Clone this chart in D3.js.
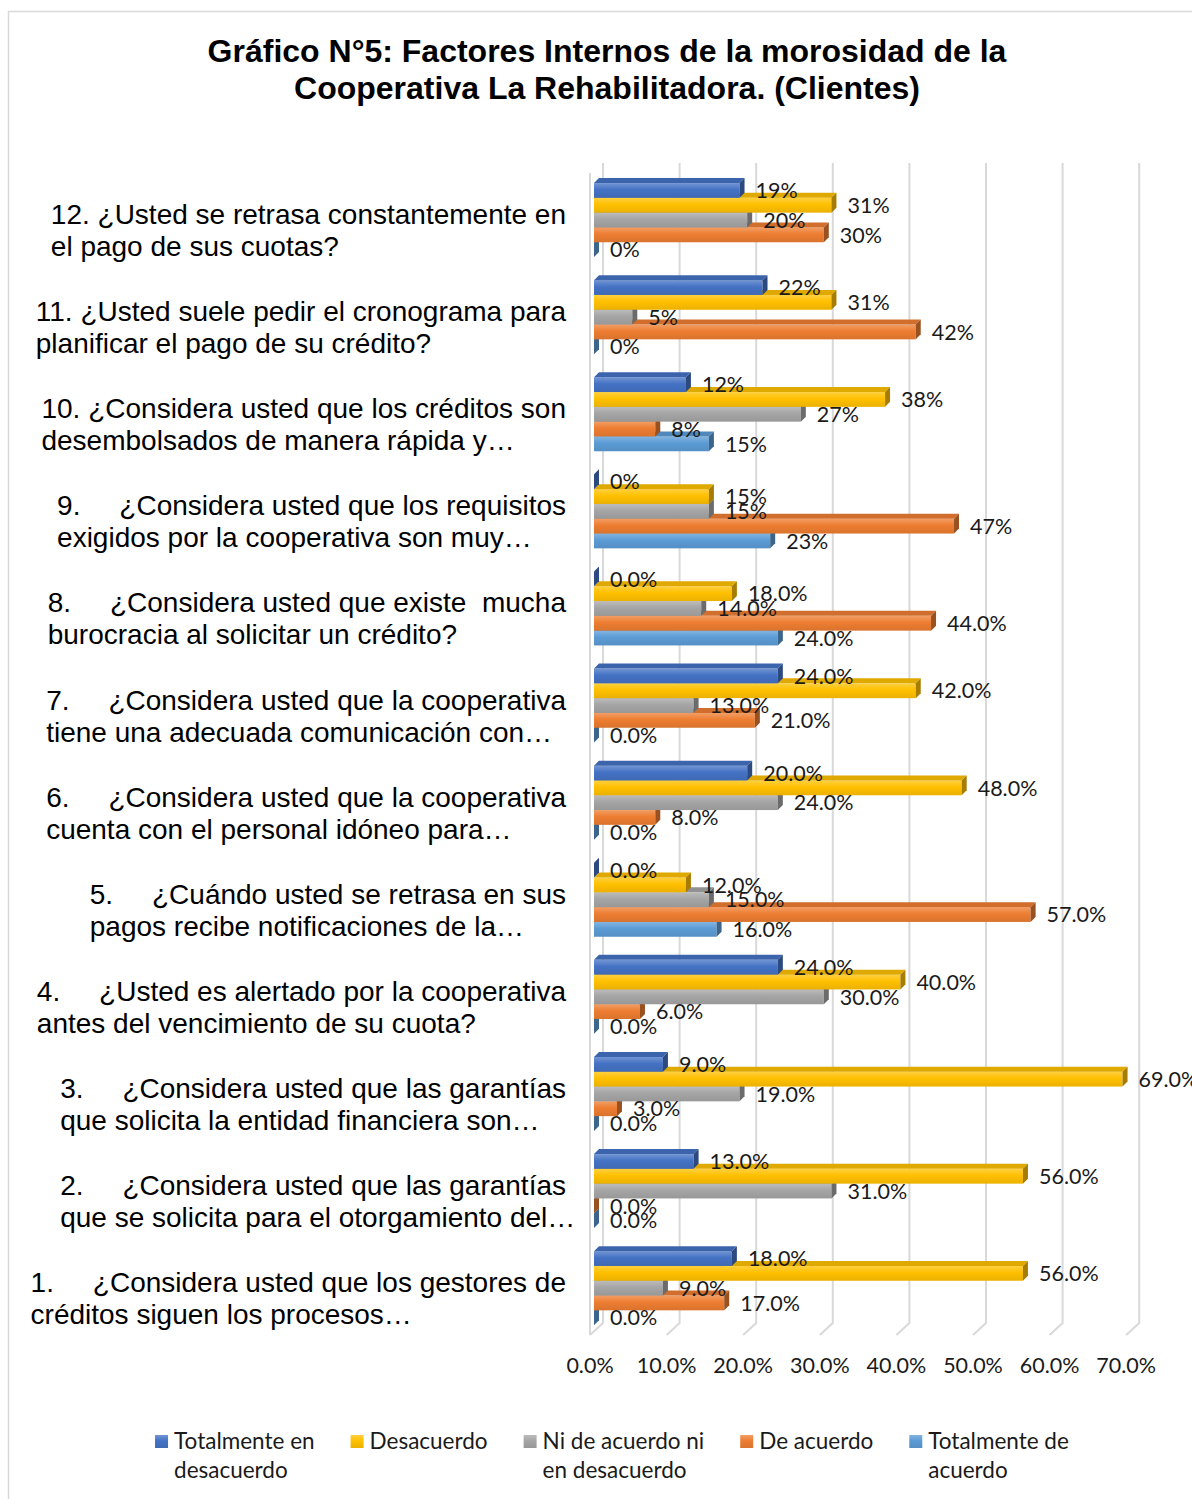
<!DOCTYPE html>
<html>
<head>
<meta charset="utf-8">
<script src="https://cdn.jsdelivr.net/npm/d3@7"></script>
<style>
    body { margin: 0; background: #fff; }
    svg { display: block; }
    .qlabel { font-family: "Liberation Sans", Arial, sans-serif; font-size: 28px; fill: #000; white-space: pre; }
    .vlabel, .tick-label { font-family: Lato, "Open Sans", sans-serif; font-size: 21.5px; fill: #1a1a1a; }
    .legend-label { font-family: Lato, "Open Sans", sans-serif; font-size: 22.5px; fill: #1a1a1a; }
    .title { font-family: "Liberation Sans", Arial, sans-serif; font-size: 32px; font-weight: bold; fill: #000; }
</style>
</head>
<body>
<svg id="chart" width="1192" height="1499"></svg>
<script>
// questions, top to bottom
var questions = ['12', '11', '10', '9', '8', '7', '6', '5', '4', '3', '2', '1'];
var questionLines = [
    ['12. ¿Usted se retrasa constantemente en', 'el pago de sus cuotas?'],
    ['11. ¿Usted suele pedir el cronograma para', 'planificar el pago de su crédito?'],
    ['10. ¿Considera usted que los créditos son', 'desembolsados de manera rápida y…'],
    ['9.     ¿Considera usted que los requisitos', 'exigidos por la cooperativa son muy…'],
    ['8.     ¿Considera usted que existe  mucha', 'burocracia al solicitar un crédito?'],
    ['7.     ¿Considera usted que la cooperativa', 'tiene una adecuada comunicación con…'],
    ['6.     ¿Considera usted que la cooperativa', 'cuenta con el personal idóneo para…'],
    ['5.     ¿Cuándo usted se retrasa en sus', 'pagos recibe notificaciones de la…'],
    ['4.     ¿Usted es alertado por la cooperativa', 'antes del vencimiento de su cuota?'],
    ['3.     ¿Considera usted que las garantías', 'que solicita la entidad financiera son…'],
    ['2.     ¿Considera usted que las garantías', 'que se solicita para el otorgamiento del…'],
    ['1.     ¿Considera usted que los gestores de', 'créditos siguen los procesos…']
];

var seriesNames = ['Totalmente en desacuerdo', 'Desacuerdo', 'Ni de acuerdo ni en desacuerdo', 'De acuerdo', 'Totalmente de acuerdo'];
var legendLines = [['Totalmente en', 'desacuerdo'], ['Desacuerdo'], ['Ni de acuerdo ni', 'en desacuerdo'], ['De acuerdo'], ['Totalmente de', 'acuerdo']];
var seriesColors = ['#4472c4', '#ffc000', '#a5a5a5', '#ed7d31', '#5b9bd5'];

// percentages per question (same order as questions)
var totDesacuerdo = [19, 22, 12, 0, 0, 24, 20, 0, 24, 9, 13, 18];
var desacuerdo    = [31, 31, 38, 15, 18, 42, 48, 12, 40, 69, 56, 56];
var niNi          = [20, 5, 27, 15, 14, 13, 24, 15, 30, 19, 31, 9];
var deAcuerdo     = [30, 42, 8, 47, 44, 21, 8, 57, 6, 3, 0, 17];
var totAcuerdo    = [0, 0, 15, 23, 24, 0, 0, 16, 0, 0, 0, 0];
var labelDecimals = [0, 0, 0, 0, 1, 1, 1, 1, 1, 1, 1, 1];
var xTicks = [0, 10, 20, 30, 40, 50, 60, 70];

var seriesValues = [totDesacuerdo, desacuerdo, niNi, deAcuerdo, totAcuerdo];

var svg = d3.select('#chart'),
    depth = 5,
    floorTop = 1323,
    floorBottom = 1335,
    wallTop = 163;

var x = d3.scaleLinear().domain([0, 70]).range([594, 594 + 70 * 7.66]);
var floorX = d3.scaleLinear().domain([0, 70]).range([590, 590 + 70 * 7.66]);
var y = d3.scaleBand()
    .domain(questions)
    .range([171.5, 171.5 + 12 * 97.1])
    .paddingInner(0.238)
    .paddingOuter(0.119);
var ys = d3.scaleBand().domain(d3.range(5)).range([0, y.bandwidth()]);

// border
svg.append('rect')
    .attr('x', 8.5).attr('y', 11.5)
    .attr('width', 1220).attr('height', 1520)
    .attr('fill', '#fff')
    .attr('stroke', '#d9d9d9')
    .attr('stroke-width', 1.5);

// title
svg.append('text').attr('class', 'title')
    .attr('x', 607).attr('y', 62)
    .attr('text-anchor', 'middle')
    .text('Gráfico N°5: Factores Internos de la morosidad de la');
svg.append('text').attr('class', 'title')
    .attr('x', 607).attr('y', 99)
    .attr('text-anchor', 'middle')
    .text('Cooperativa La Rehabilitadora. (Clientes)');

// gradients
var defs = svg.append('defs');
seriesColors.forEach(function(c, i) {
    var g = defs.append('linearGradient')
        .attr('id', 'grad' + i)
        .attr('x1', 0).attr('y1', 0).attr('x2', 0).attr('y2', 1);
    g.append('stop').attr('offset', '0%').attr('stop-color', d3.interpolateRgb(c, '#fff')(0.25));
    g.append('stop').attr('offset', '45%').attr('stop-color', c);
    g.append('stop').attr('offset', '100%').attr('stop-color', d3.interpolateRgb(c, '#000')(0.08));
});

// walls and floor grid
var grid = svg.append('g').attr('class', 'grid')
    .attr('fill', 'none')
    .attr('stroke', '#d9d9d9')
    .attr('stroke-width', 2);

grid.append('line')
    .attr('x1', floorX(0)).attr('x2', floorX(0))
    .attr('y1', wallTop + 10).attr('y2', floorBottom);

grid.selectAll('path.gridline')
    .data(xTicks)
    .enter()
    .append('path')
    .attr('class', 'gridline')
    .attr('d', function(d) {
        var xb = floorX(d) + 13;
        return 'M' + xb + ',' + wallTop + 'L' + xb + ',' + floorTop + 'L' + floorX(d) + ',' + floorBottom;
    });

// bars
var bh = ys.bandwidth();

function barData() {
    var out = [];
    questions.forEach(function(q, qi) {
        for (var s = seriesValues.length - 1; s >= 0; s--) {
            out.push({ q: q, qi: qi, s: s, v: seriesValues[s][qi] });
        }
    });
    return out;
}

var bars = svg.append('g').attr('class', 'bars')
    .selectAll('.bar')
    .data(barData())
    .enter()
    .append('g')
    .attr('class', 'bar');

bars.append('rect')
    .attr('x', x(0))
    .attr('y', function(d) { return y(d.q) + ys(d.s); })
    .attr('width', function(d) { return x(d.v) - x(0); })
    .attr('height', bh)
    .attr('fill', function(d) { return 'url(#grad' + d.s + ')'; });

bars.append('path')
    .attr('d', function(d) {
        var y0 = y(d.q) + ys(d.s), x0 = x(0), x1 = x(d.v);
        return 'M' + x0 + ',' + y0 + 'L' + (x0 + depth) + ',' + (y0 - depth) +
            'L' + (x1 + depth) + ',' + (y0 - depth) + 'L' + x1 + ',' + y0 + 'Z';
    })
    .attr('fill', function(d) { return d3.interpolateRgb(seriesColors[d.s], '#000')(0.12); });

bars.append('path')
    .attr('d', function(d) {
        var y0 = y(d.q) + ys(d.s), x1 = x(d.v);
        return 'M' + x1 + ',' + y0 + 'L' + (x1 + depth) + ',' + (y0 - depth) +
            'L' + (x1 + depth) + ',' + (y0 + bh - depth) + 'L' + x1 + ',' + (y0 + bh) + 'Z';
    })
    .attr('fill', function(d) { return d3.interpolateRgb(seriesColors[d.s], '#000')(0.35); });

// value labels
svg.append('g').attr('class', 'value-labels')
    .selectAll('text')
    .data(barData())
    .enter()
    .append('text')
    .attr('class', 'vlabel')
    .attr('x', function(d) { return x(d.v) + 16; })
    .attr('y', function(d) { return y(d.q) + ys(d.s) + bh / 2; })
    .attr('dy', '0.36em')
    .text(function(d) { return d.v.toFixed(labelDecimals[d.qi]) + '%'; });

// question labels
var qg = svg.append('g').attr('class', 'question-labels')
    .selectAll('g')
    .data(questions)
    .enter()
    .append('g');

qg.each(function(q, i) {
    var g = d3.select(this),
        cy = y(q) + y.bandwidth() / 2;
    var first = g.append('text').attr('class', 'qlabel')
        .attr('y', cy + 4)
        .text(questionLines[i][0]);
    var left = 566 - first.node().getComputedTextLength();
    first.attr('x', left);
    g.append('text').attr('class', 'qlabel')
        .attr('x', left)
        .attr('y', cy + 36)
        .text(questionLines[i][1]);
});

// x axis labels
svg.append('g').attr('class', 'x-axis')
    .selectAll('text')
    .data(xTicks)
    .enter()
    .append('text')
    .attr('class', 'tick-label')
    .attr('x', function(d) { return floorX(d); })
    .attr('y', 1373)
    .attr('text-anchor', 'middle')
    .text(function(d) { return d3.format('.1%')(d / 100); });

// legend
var legend = svg.append('g').attr('class', 'legend');
var items = legend.selectAll('g')
    .data(seriesNames)
    .enter()
    .append('g');

items.append('rect')
    .attr('width', 13).attr('height', 13)
    .attr('y', -14)
    .attr('fill', function(d, i) { return 'url(#grad' + i + ')'; });

items.each(function(d, i) {
    var g = d3.select(this);
    legendLines[i].forEach(function(line, li) {
        g.append('text')
            .attr('class', 'legend-label')
            .attr('x', 19)
            .attr('y', li * 29)
            .text(line);
    });
});

var lx = 0, positions = [];
items.each(function() {
    positions.push(lx);
    lx += this.getBBox().width + 36;
});
var legendWidth = lx - 36,
    legendLeft = 612 - legendWidth / 2;
items.attr('transform', function(d, i) { return 'translate(' + (legendLeft + positions[i]) + ',1449)'; });
</script>
</body>
</html>
